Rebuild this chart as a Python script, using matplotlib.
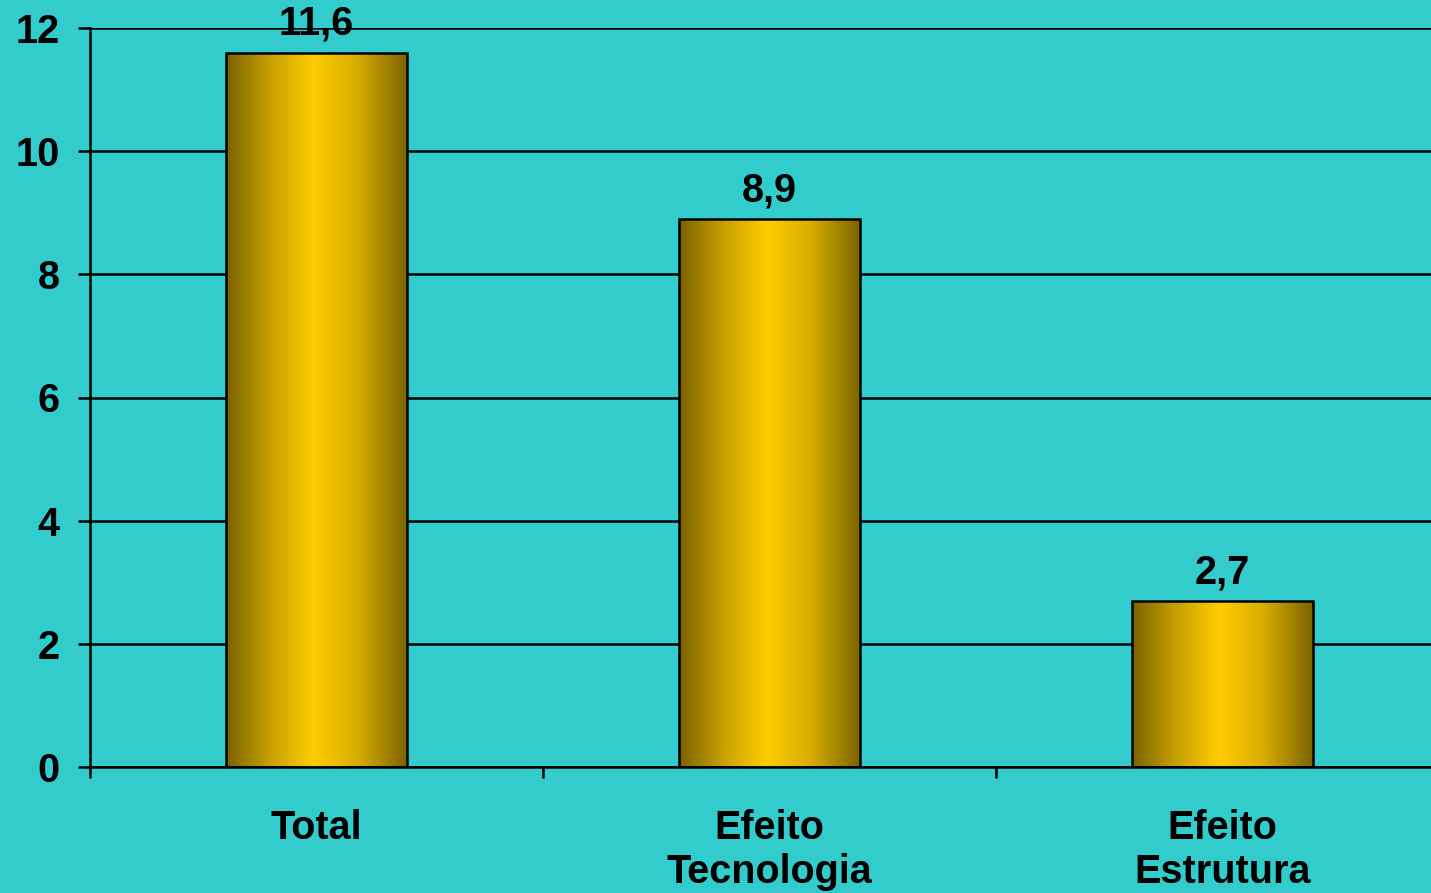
import numpy as np
import matplotlib
matplotlib.use("Agg")
import matplotlib.pyplot as plt
from matplotlib.colors import LinearSegmentedColormap

categories = ["Total", "Efeito\nTecnologia", "Efeito\nEstrutura"]
values = [11.6, 8.9, 2.7]
value_labels = ["11,6", "8,9", "2,7"]
y_ticks = [0, 2, 4, 6, 8, 10, 12]

BG = "#33CCCC"
FS = 28.5
LW = 1.8
plt.rcParams["font.family"] = ["Liberation Sans", "DejaVu Sans"]
plt.rcParams["font.weight"] = "bold"

fig = plt.figure(figsize=(14.31, 8.93), dpi=100, facecolor=BG)
ax = fig.add_axes([90 / 1431, 1 - 767 / 893, (1449 - 90) / 1431, (767 - 28) / 893])
ax.set_facecolor(BG)

x = np.arange(len(categories)) + 0.5
bars = ax.bar(x, values, width=0.4, color="none", edgecolor="black",
              linewidth=LW, zorder=3)

# golden cylinder shading across each bar
shade = LinearSegmentedColormap.from_list(
    "gold", [(0.0, "#7A6300"), (0.25, "#C9A200"), (0.48, "#FFCC00"),
             (0.72, "#D9AE00"), (1.0, "#7A6300")])
grad = np.linspace(0, 1, 256).reshape(1, -1)
for rect in bars:
    x0, w, h = rect.get_x(), rect.get_width(), rect.get_height()
    im = ax.imshow(grad, cmap=shade, aspect="auto", interpolation="bilinear",
                   extent=[x0, x0 + w, 0, h], zorder=2)
    im.set_clip_path(rect)

for xi, v, lab in zip(x, values, value_labels):
    ax.annotate(lab, (xi, v), xytext=(0, 7), textcoords="offset points",
                ha="center", va="bottom", fontsize=FS, fontweight="bold")

ax.set_xlim(0, 3)
ax.set_ylim(0, 12)
ax.set_yticks(y_ticks)
ax.set_yticklabels([str(t) for t in y_ticks], fontsize=FS, fontweight="bold")
ax.yaxis.grid(True, color="black", linewidth=LW, zorder=1)
ax.set_axisbelow(True)

ax.set_xticks([0, 1, 2, 3])
ax.set_xticklabels([])
ax.set_xticks(x, minor=True)
ax.set_xticklabels(categories, minor=True, fontsize=FS, fontweight="bold",
                   linespacing=1.2)
ax.tick_params(axis="x", which="minor", length=0, pad=30)
ax.tick_params(axis="x", which="major", direction="out", length=8, width=LW)
ax.tick_params(axis="y", direction="out", length=9, width=LW, pad=13)

for side in ["top", "right"]:
    ax.spines[side].set_visible(False)
for side in ["left", "bottom"]:
    ax.spines[side].set_linewidth(LW)

fig.savefig("out.png", dpi=100, facecolor=BG)
